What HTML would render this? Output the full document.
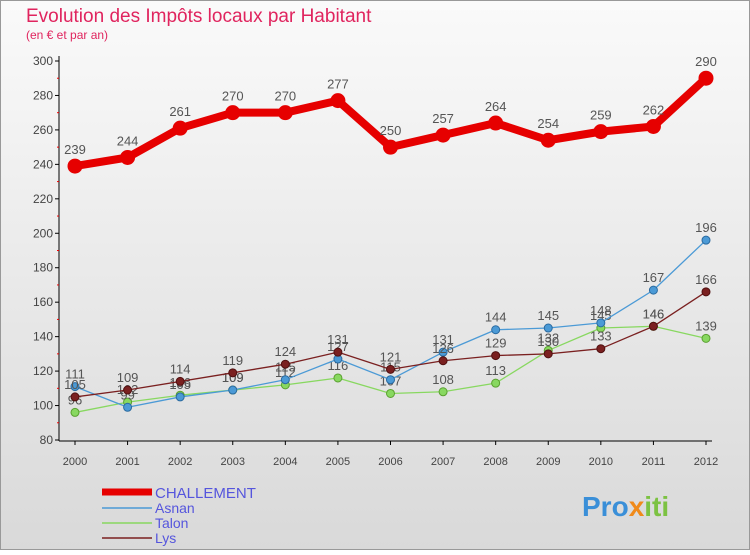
<!DOCTYPE html>
<html><head><meta charset="utf-8"><style>
body{margin:0;width:750px;height:550px;overflow:hidden;font-family:"Liberation Sans",sans-serif}
</style></head><body>
<svg width="750" height="550" xmlns="http://www.w3.org/2000/svg">
<defs><linearGradient id="bg" x1="0" y1="0" x2="0" y2="1"><stop offset="0" stop-color="#fafafa"/><stop offset="1" stop-color="#d9d9d9"/></linearGradient></defs>
<rect x="0.5" y="0.5" width="749" height="549" fill="url(#bg)" stroke="#999"/>
<text x="26" y="22" font-size="19" fill="#e0245e">Evolution des Impôts locaux par Habitant</text>
<text x="26" y="39" font-size="12" fill="#e0245e">(en € et par an)</text>
<g id="axes"></g><g id="series"></g>
<g>
<line x1="102" y1="492" x2="152" y2="492" stroke="#e60000" stroke-width="7"/>
<text x="155" y="498" font-size="15" fill="#5555dd">CHALLEMENT</text>
<line x1="102" y1="508" x2="152" y2="508" stroke="#4b9ad6" stroke-width="1.5"/>
<text x="155" y="513" font-size="14" fill="#5555dd">Asnan</text>
<line x1="102" y1="523" x2="152" y2="523" stroke="#88d860" stroke-width="1.5"/>
<text x="155" y="528" font-size="14" fill="#5555dd">Talon</text>
<line x1="102" y1="538" x2="152" y2="538" stroke="#7a2020" stroke-width="1.5"/>
<text x="155" y="543" font-size="14" fill="#5555dd">Lys</text>
</g>
<text x="582" y="516" font-size="28" font-weight="bold" fill="#3a8fd8">Pro<tspan fill="#f08a1a">x</tspan><tspan fill="#7cc242">iti</tspan></text>
</svg>
<script>
const years=[2000,2001,2002,2003,2004,2005,2006,2007,2008,2009,2010,2011,2012];
const yTicks=[80,100,120,140,160,180,200,220,240,260,280,300];
const challement=[239,244,261,270,270,277,250,257,264,254,259,262,290];
const asnan=[111,99,105,109,115,127,115,131,144,145,148,167,196];
const talon=[96,102,106,109,112,116,107,108,113,132,145,146,139];
const lys=[105,109,114,119,124,131,121,126,129,130,133,146,166];
const NS="http://www.w3.org/2000/svg";
const X=i=>75+i*(706-75)/(years.length-1);
const Y=v=>440-(v-80)*(440-61)/220;
function mk(t,a,p){const e=document.createElementNS(NS,t);for(const k in a)e.setAttribute(k,a[k]);p.appendChild(e);return e;}
const ax=document.getElementById('axes');
const ya=mk('line',{x1:59,y1:56,x2:59,y2:441,stroke:'#000'},ax);


const xa=mk('line',{x1:59,y1:441,x2:712,y2:441,stroke:'#000'},ax);


yTicks.forEach(v=>{
  mk('line',{x1:55,y1:Y(v),x2:59,y2:Y(v),stroke:'#000'},ax);
  if(v<300)mk('line',{x1:57,y1:Y(v+10),x2:59,y2:Y(v+10),stroke:'#e00'},ax);
  const t=mk('text',{x:53,y:Y(v)+4,'font-size':12,'text-anchor':'end',fill:'#444'},ax);t.textContent=v;
  
  
});
years.forEach((y,i)=>{
  mk('line',{x1:X(i),y1:441,x2:X(i),y2:445,stroke:'#000'},ax);
  const t=mk('text',{x:X(i),y:465,'font-size':11,'text-anchor':'middle',fill:'#444'},ax);t.textContent=y;
  
  
});
const sg=document.getElementById('series');
function draw(data,name,color,w,r,stroke,fs,dy){
  const g=mk('g',{},sg);
  
  
  mk('polyline',{points:data.map((v,i)=>X(i)+','+Y(v)).join(' '),fill:'none',stroke:color,'stroke-width':w,'stroke-linejoin':'round'},g);
  data.forEach((v,i)=>{
    const c=mk('circle',{cx:X(i),cy:Y(v),r:r,fill:color,stroke:stroke,'stroke-width':1},g);
    
    
    const t=mk('text',{x:X(i),y:Y(v)-dy,'font-size':fs,'text-anchor':'middle',fill:'#555'},g);t.textContent=v;
    
    
  });
}
draw(talon,'talon','#88d860',1.3,4,'#5aa030',13,8);
draw(asnan,'asnan','#4b9ad6',1.3,4,'#2a6aa0',13,8);
draw(lys,'lys','#7a2020',1.3,4,'#501010',13,8);
draw(challement,'challement','#e60000',8,7,'#e60000',13,12);
</script>
</body></html>
